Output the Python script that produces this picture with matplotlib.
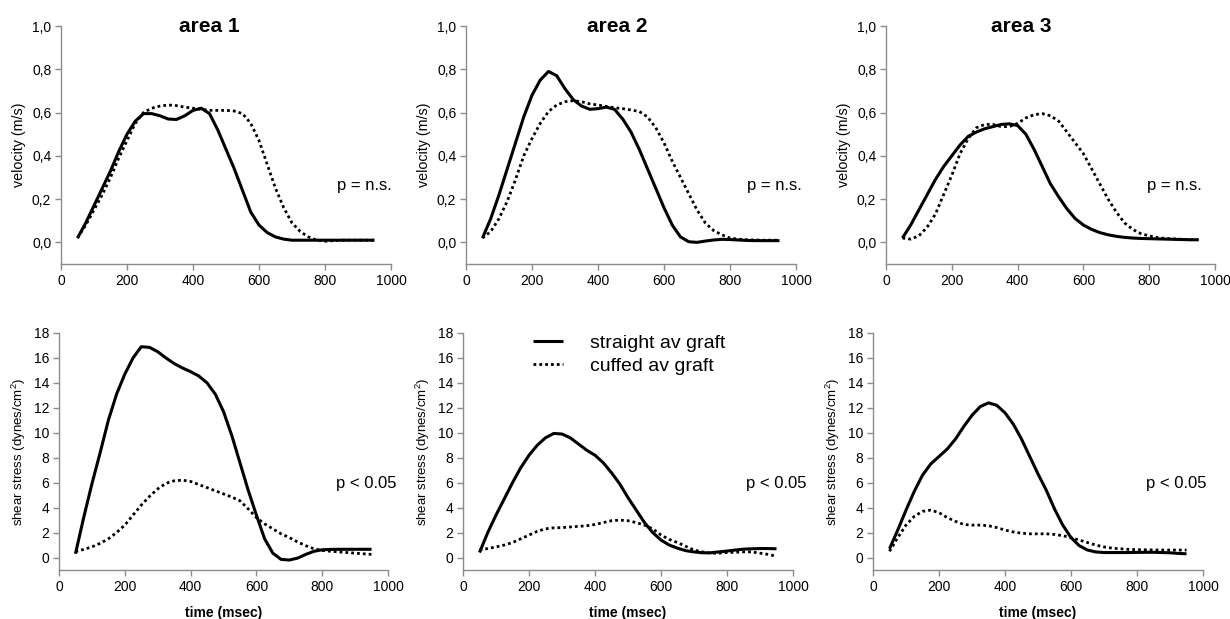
import matplotlib
matplotlib.use("Agg")
import matplotlib.pyplot as plt

plt.rcParams['font.family'] = ['Liberation Sans', 'DejaVu Sans']
plt.rcParams['mathtext.fontset'] = 'custom'
plt.rcParams['mathtext.rm'] = 'Liberation Sans'

# time points (msec)
t = list(range(50, 951, 25))

# velocity (m/s)
vel_straight_1 = [0.02, 0.09, 0.17, 0.25, 0.33, 0.42, 0.50, 0.56, 0.595, 0.595, 0.585, 0.57, 0.568,
                  0.585, 0.61, 0.62, 0.595, 0.52, 0.43, 0.34, 0.24, 0.14, 0.08, 0.045, 0.025, 0.015,
                  0.01, 0.01, 0.01, 0.01, 0.01, 0.01, 0.01, 0.01, 0.01, 0.01, 0.01]
vel_cuffed_1 = [0.02, 0.08, 0.15, 0.22, 0.30, 0.39, 0.47, 0.55, 0.60, 0.62, 0.63, 0.635, 0.632,
                0.625, 0.62, 0.615, 0.61, 0.61, 0.61, 0.607, 0.595, 0.55, 0.47, 0.36, 0.25, 0.16,
                0.09, 0.05, 0.025, 0.01, 0.005, 0.008, 0.01, 0.01, 0.01, 0.01, 0.01]
vel_straight_2 = [0.02, 0.11, 0.22, 0.34, 0.46, 0.58, 0.68, 0.75, 0.79, 0.77, 0.71, 0.66, 0.63,
                  0.615, 0.618, 0.625, 0.615, 0.57, 0.51, 0.43, 0.34, 0.25, 0.16, 0.08, 0.025, 0.003,
                  0.0, 0.006, 0.011, 0.014, 0.013, 0.011, 0.009, 0.008, 0.008, 0.008, 0.008]
vel_cuffed_2 = [0.02, 0.05, 0.11, 0.19, 0.29, 0.40, 0.48, 0.55, 0.605, 0.635, 0.65, 0.655, 0.65,
                0.64, 0.635, 0.628, 0.622, 0.618, 0.612, 0.605, 0.58, 0.53, 0.46, 0.375, 0.30, 0.225,
                0.15, 0.09, 0.055, 0.035, 0.02, 0.015, 0.012, 0.011, 0.01, 0.01, 0.01]
vel_straight_3 = [0.02, 0.08, 0.15, 0.22, 0.29, 0.35, 0.40, 0.45, 0.49, 0.51, 0.525, 0.535, 0.545,
                  0.548, 0.54, 0.50, 0.43, 0.35, 0.27, 0.21, 0.155, 0.11, 0.08, 0.06, 0.045, 0.035,
                  0.028, 0.023, 0.02, 0.018, 0.017, 0.016, 0.015, 0.014, 0.013, 0.012, 0.012]
vel_cuffed_3 = [0.02, 0.015, 0.03, 0.07, 0.13, 0.22, 0.31, 0.41, 0.48, 0.53, 0.545, 0.545, 0.535,
                0.535, 0.55, 0.575, 0.59, 0.595, 0.585, 0.56, 0.51, 0.46, 0.41, 0.34, 0.27, 0.20,
                0.14, 0.09, 0.06, 0.04, 0.03, 0.022, 0.018, 0.016, 0.014, 0.013, 0.012]

# shear stress (dynes/cm2)
ss_straight_1 = [0.3, 3.2, 5.9, 8.4, 11.0, 13.1, 14.7, 16.0, 16.9, 16.85, 16.5, 16.0, 15.55, 15.2,
                 14.9, 14.55, 14.0, 13.1, 11.7, 9.8, 7.6, 5.4, 3.4, 1.5, 0.35, -0.15, -0.2, -0.05,
                 0.25, 0.5, 0.62, 0.65, 0.66, 0.66, 0.66, 0.66, 0.66]
ss_cuffed_1 = [0.47, 0.65, 0.85, 1.14, 1.5, 2.0, 2.6, 3.4, 4.2, 4.9, 5.5, 5.95, 6.15, 6.2, 6.1,
               5.85, 5.6, 5.35, 5.1, 4.85, 4.55, 3.9, 3.2, 2.7, 2.3, 1.9, 1.6, 1.25, 0.95, 0.7,
               0.57, 0.5, 0.45, 0.4, 0.35, 0.3, 0.25]
ss_straight_2 = [0.4, 2.0, 3.4, 4.7, 6.0, 7.2, 8.2, 9.0, 9.6, 9.95, 9.9, 9.6, 9.1, 8.6, 8.2, 7.6,
                 6.8, 5.9, 4.8, 3.8, 2.8, 2.0, 1.4, 1.0, 0.75, 0.55, 0.45, 0.38, 0.38, 0.45, 0.52,
                 0.6, 0.67, 0.7, 0.72, 0.72, 0.7]
ss_cuffed_2 = [0.6, 0.72, 0.85, 1.0, 1.2, 1.5, 1.8, 2.1, 2.3, 2.38, 2.4, 2.45, 2.5, 2.55, 2.65,
               2.8, 2.95, 3.0, 2.95, 2.8, 2.6, 2.3, 1.8, 1.45, 1.2, 0.9, 0.6, 0.45, 0.35, 0.35,
               0.4, 0.42, 0.45, 0.45, 0.35, 0.25, 0.1]
ss_straight_3 = [0.7, 2.2, 3.8, 5.3, 6.6, 7.5, 8.1, 8.7, 9.5, 10.5, 11.4, 12.1, 12.4, 12.2, 11.6,
                 10.7, 9.5, 8.1, 6.7, 5.4, 3.9, 2.6, 1.6, 0.95, 0.6, 0.45, 0.4, 0.4, 0.4, 0.4,
                 0.41, 0.42, 0.42, 0.4, 0.38, 0.33, 0.3]
ss_cuffed_3 = [0.5, 1.6, 2.6, 3.3, 3.7, 3.8, 3.6, 3.2, 2.9, 2.65, 2.6, 2.6, 2.55, 2.4, 2.2, 2.05,
               1.95, 1.9, 1.9, 1.9, 1.85, 1.75, 1.6, 1.4, 1.2, 1.0, 0.85, 0.75, 0.7, 0.65, 0.63,
               0.62, 0.61, 0.6, 0.6, 0.6, 0.6]

titles = ['area 1', 'area 2', 'area 3']
vel_ticks = [0.0, 0.2, 0.4, 0.6, 0.8, 1.0]
vel_labels = ['0,0', '0,2', '0,4', '0,6', '0,8', '1,0']
ss_ticks = [0, 2, 4, 6, 8, 10, 12, 14, 16, 18]
x_ticks = [0, 200, 400, 600, 800, 1000]

W, H = 1230, 619
fig = plt.figure(figsize=(W / 100, H / 100), dpi=100)

# axes boxes in pixels: left, top, right, bottom
top_boxes = [(61, 26, 391, 264), (466, 26, 796, 264), (886, 26, 1215, 264)]
bot_boxes = [(59, 333, 388, 570), (463, 333, 793, 570), (873, 333, 1203, 570)]


def make_ax(box):
    l, tp, r, b = box
    ax = fig.add_axes([l / W, 1 - b / H, (r - l) / W, (b - tp) / H])
    for s in ['top', 'right']:
        ax.spines[s].set_visible(False)
    for s in ['left', 'bottom']:
        ax.spines[s].set_color('#8c8c8c')
        ax.spines[s].set_linewidth(1.0)
    ax.tick_params(direction='out', length=4, width=1, color='#8c8c8c',
                   labelsize=10, pad=3)
    ax.set_xlim(0, 1000)
    ax.set_xticks(x_ticks)
    ax.set_xticklabels([str(v) for v in x_ticks])
    return ax


solid = dict(color='black', lw=2.2, solid_capstyle='butt', solid_joinstyle='round')
dotted = dict(color='black', lw=2.0, linestyle=(0, (1, 1.1)))

vel_data = [(vel_straight_1, vel_cuffed_1), (vel_straight_2, vel_cuffed_2),
            (vel_straight_3, vel_cuffed_3)]
ss_data = [(ss_straight_1, ss_cuffed_1), (ss_straight_2, ss_cuffed_2),
           (ss_straight_3, ss_cuffed_3)]
title_x = [0.45, 0.458, 0.41]
pv_x = [1.003, 1.018, 0.96]
ps_x = [1.027, 1.04, 1.01]

for i in range(3):
    ax = make_ax(top_boxes[i])
    s, c = vel_data[i]
    ax.plot(t, c, **dotted)
    ax.plot(t, s, **solid)
    ax.set_ylim(-0.1, 1.0)
    ax.set_yticks(vel_ticks)
    ax.set_yticklabels(vel_labels)
    ax.set_ylabel('velocity (m/s)', fontsize=10.3, labelpad=4)
    ax.text(title_x[i], 1.0, titles[i], transform=ax.transAxes, ha='center', va='center',
            fontsize=15, fontweight='bold')
    ax.text(pv_x[i], 0.33, 'p = n.s.', transform=ax.transAxes, ha='right', va='center',
            fontsize=12)

    ax = make_ax(bot_boxes[i])
    s, c = ss_data[i]
    lc, = ax.plot(t, c, **dotted)
    ls, = ax.plot(t, s, **solid)
    ax.set_ylim(-1, 18)
    ax.set_yticks(ss_ticks)
    ax.set_yticklabels([str(v) for v in ss_ticks])
    ax.set_ylabel('shear stress (dynes/cm$^2$)', fontsize=9.5, labelpad=4)
    ax.set_xlabel('time (msec)', fontsize=10, fontweight='bold', labelpad=9)
    ax.text(ps_x[i], 0.367, 'p < 0.05', transform=ax.transAxes, ha='right', va='center',
            fontsize=12)
    if i == 1:
        ax.legend([ls, lc], ['straight av graft', 'cuffed av graft'], loc='upper left',
                  bbox_to_anchor=(0.212, 0.995), frameon=False, fontsize=14,
                  handlelength=1.55, handletextpad=1.4, labelspacing=0.3,
                  borderpad=0, borderaxespad=0)

fig.savefig('out.png', dpi=100)
